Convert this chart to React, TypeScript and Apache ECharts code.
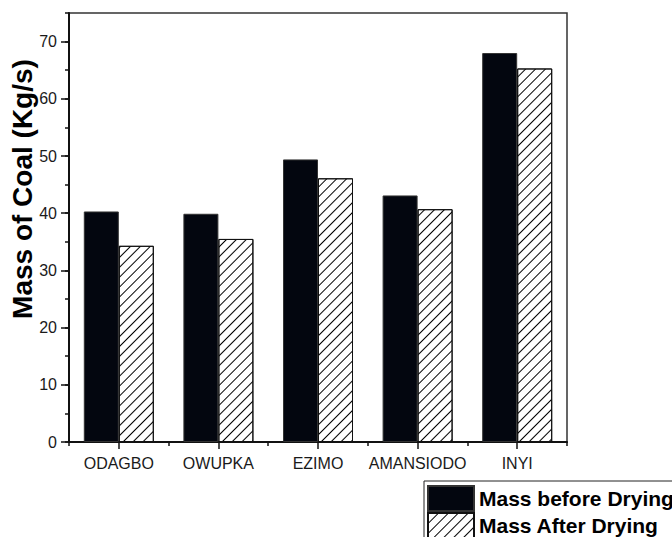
import React, { useEffect, useRef } from 'react';
import * as echarts from 'echarts';

const categories = ['ODAGBO', 'OWUPKA', 'EZIMO', 'AMANSIODO', 'INYI'];
const massBeforeDrying = [40.3, 39.9, 49.4, 43.1, 68.0];
const massAfterDrying = [34.3, 35.5, 46.1, 40.7, 65.3];
const seriesNames = ['Mass before Drying', 'Mass After Drying'];
const yTitle = 'Mass of Coal (Kg/s)';

const FONT = '"Liberation Sans", Arial, Helvetica, sans-serif';

export default function App() {
  const ref = useRef<HTMLDivElement>(null);
  useEffect(() => {
    if (!ref.current) return;
    const chart = echarts.init(ref.current, null, { renderer: 'svg' });
    const axisColor = '#111';
    chart.setOption({
      animation: false,
      backgroundColor: '#fff',
      grid: {
        left: 69,
        top: 13,
        width: 498,
        height: 429,
        show: true,
        borderColor: '#333',
        borderWidth: 1.5,
        backgroundColor: 'transparent',
      },
      xAxis: [
        {
          type: 'category',
          data: categories,
          position: 'bottom',
          axisLine: { show: true, lineStyle: { color: axisColor, width: 2 } },
          axisTick: { show: true, alignWithLabel: true, length: 7, lineStyle: { color: axisColor, width: 1.5 } },
          axisLabel: { interval: 0, fontSize: 16, fontFamily: FONT, color: '#1a1a1a', margin: 13 },
          splitLine: { show: false },
        },
        {
          type: 'category',
          data: categories,
          position: 'bottom',
          axisLine: { show: false },
          axisTick: { show: true, interval: 0, length: 4, lineStyle: { color: axisColor, width: 1.5 } },
          axisLabel: { show: false },
          splitLine: { show: false },
        },
      ],
      yAxis: [
        {
          type: 'value',
          min: 0,
          max: 75,
          interval: 10,
          axisLine: { show: true, lineStyle: { color: axisColor, width: 2 } },
          axisTick: { show: true, length: 8, lineStyle: { color: axisColor, width: 1.5 } },
          axisLabel: { fontSize: 16, fontFamily: FONT, color: '#1a1a1a', margin: 12, showMaxLabel: false },
          splitLine: { show: false },
        },
        {
          type: 'value',
          min: 0,
          max: 75,
          interval: 5,
          position: 'left',
          axisLine: { show: false },
          axisTick: { show: true, length: 4, lineStyle: { color: axisColor, width: 1.5 } },
          axisLabel: { show: false },
          splitLine: { show: false },
        },
      ],
      legend: {
        orient: 'vertical',
        left: 424,
        top: 481,
        height: 120,
        itemWidth: 46,
        itemHeight: 25,
        itemGap: 0,
        padding: [4, 10, 4, 3],
        borderColor: '#222',
        borderWidth: 1,
        icon: 'rect',
        selectedMode: false,
        data: seriesNames,
        textStyle: { fontSize: 21, fontWeight: 'bold', color: '#000', fontFamily: FONT },
      },
      graphic: [
        {
          type: 'text',
          x: 22,
          y: 189,
          rotation: Math.PI / 2,
          style: {
            text: yTitle,
            font: 'bold 28px ' + FONT,
            fill: '#000',
            textAlign: 'center',
            textVerticalAlign: 'middle',
          },
        },
      ],
      series: [
        {
          type: 'bar',
          name: seriesNames[0],
          data: massBeforeDrying,
          barWidth: 35,
          barGap: '0%',
          itemStyle: { color: '#03060f', borderColor: '#333', borderWidth: 1 },
        },
        {
          type: 'bar',
          name: seriesNames[1],
          data: massAfterDrying,
          barWidth: 35,
          barGap: '0%',
          itemStyle: {
            color: '#fff',
            borderColor: '#111',
            borderWidth: 1,
            decal: {
              symbol: 'rect',
              symbolSize: 1,
              dashArrayX: [1, 0],
              dashArrayY: [1, 6],
              rotation: -Math.PI / 4,
              color: '#000',
              backgroundColor: '#fff',
            },
          },
        },
      ],
    });
    return () => chart.dispose();
  }, []);
  return (
    <div
      ref={ref}
      style={{ position: 'fixed', left: 0, top: 0, width: 672, height: 537 }}
    />
  );
}
